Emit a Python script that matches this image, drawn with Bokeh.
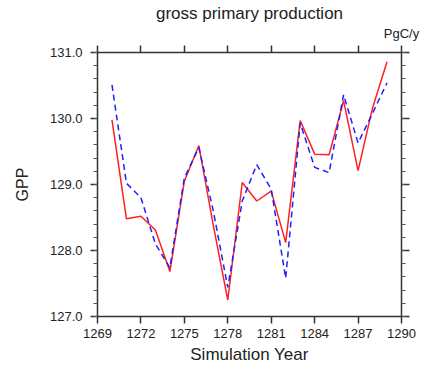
from bokeh.plotting import figure
from bokeh.models import (LinearAxis, FixedTicker, NumeralTickFormatter, Title,
                          Range1d)
from bokeh.embed import file_html
from bokeh.resources import INLINE

# Annual gross primary production for two runs (PgC/y)
years = list(range(1270, 1290))
gpp_run_a = [129.98, 128.48, 128.52, 128.31, 127.68, 129.05, 129.59, 128.38,
             127.25, 129.03, 128.75, 128.90, 128.12, 129.97, 129.46, 129.45,
             130.27, 129.21, 130.16, 130.86]
gpp_run_b = [130.51, 129.02, 128.80, 128.10, 127.74, 129.10, 129.56, 128.60,
             127.44, 128.75, 129.30, 128.93, 127.58, 129.93, 129.26, 129.18,
             130.36, 129.63, 130.08, 130.54]

x_ticks = [1269, 1272, 1275, 1278, 1281, 1284, 1287, 1290]
y_ticks = [127.0, 128.0, 129.0, 130.0, 131.0]
y_minor = [127.0 + 0.2 * i for i in range(21)]

FONT = "Liberation Sans"

p = figure(width=423, height=366, output_backend="svg", toolbar_location=None,
           x_range=Range1d(1269, 1290), y_range=Range1d(127.0, 131.0),
           x_axis_location=None, y_axis_location=None,
           min_border_left=97, min_border_right=22,
           min_border_top=52, min_border_bottom=50)
p.grid.visible = False
p.outline_line_color = None
p.background_fill_color = "white"
p.border_fill_color = "white"

xt = FixedTicker(ticks=x_ticks)
yt = FixedTicker(ticks=y_ticks, minor_ticks=y_minor)


def style_axis(ax, labels):
    ax.axis_line_color = "#333333"
    ax.axis_line_width = 1.5
    ax.major_tick_line_color = "#333333"
    ax.major_tick_line_width = 1.5
    ax.minor_tick_line_color = "#555555"
    ax.major_tick_in = 0
    ax.minor_tick_in = 0
    ax.major_label_text_font = FONT
    ax.major_label_text_font_size = "13px"
    ax.major_label_text_color = "#222222"
    if not labels:
        ax.major_label_text_font_size = "0px"
        ax.major_label_text_alpha = 0
        ax.major_label_standoff = 0


bottom = LinearAxis(ticker=xt, axis_label="Simulation Year")
style_axis(bottom, True)
bottom.major_tick_out = 7
bottom.minor_tick_out = 0
bottom.major_label_standoff = 5
bottom.axis_label_standoff = 4
bottom.axis_label_text_font = FONT
bottom.axis_label_text_font_style = "normal"
bottom.axis_label_text_font_size = "17px"
bottom.axis_label_text_color = "#222222"
p.add_layout(bottom, "below")

# top frame edge carries the units string, right-aligned
top = LinearAxis(ticker=xt, axis_label="PgC/y")
style_axis(top, False)
top.major_tick_out = 7
top.minor_tick_out = 0
top.axis_label_align = "end"
top.axis_label_standoff = 5
top.axis_label_text_font = FONT
top.axis_label_text_font_style = "normal"
top.axis_label_text_font_size = "13px"
top.axis_label_text_color = "#222222"
p.add_layout(top, "above")

left = LinearAxis(ticker=yt, axis_label="GPP",
                  formatter=NumeralTickFormatter(format="0.0"))
style_axis(left, True)
left.major_tick_out = 7
left.minor_tick_out = 4
left.major_label_standoff = 8
left.axis_label_standoff = 16
left.axis_label_text_font = FONT
left.axis_label_text_font_style = "normal"
left.axis_label_text_font_size = "16px"
left.axis_label_text_color = "#222222"
p.add_layout(left, "left")

right = LinearAxis(ticker=yt)
style_axis(right, False)
right.major_tick_out = 8
right.minor_tick_out = 4
p.add_layout(right, "right")

# the two GPP series
p.line(years, gpp_run_a, line_color="#ff2020", line_width=1.5)
p.line(years, gpp_run_b, line_color="#2020ff", line_width=1.5,
       line_dash="6 4")

p.add_layout(Title(text="gross primary production", align="center",
                   text_font=FONT, text_font_size="17px",
                   text_font_style="normal", text_color="#222222",
                   standoff=0), "above")

open("out.html", "w").write(file_html(p, INLINE))
